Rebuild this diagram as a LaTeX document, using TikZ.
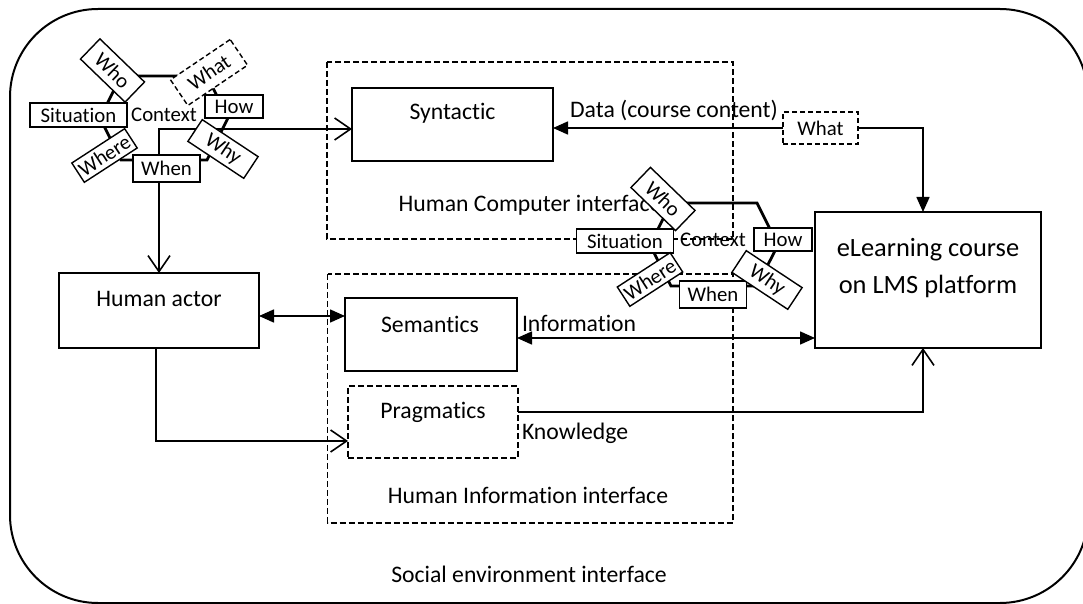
\documentclass[tikz,border=0pt]{standalone}
\usepackage{fontspec}
\setmainfont{Carlito}[Ligatures=NoCommon]
\usetikzlibrary{arrows.meta}
\begin{document}
\begin{tikzpicture}[x=0.5pt,y=-0.5pt,
  every node/.style={inner sep=0pt, outer sep=0pt},
  mainfont/.style={font=\fontsize{11.85pt}{14pt}\selectfont},
  smallfont/.style={font=\fontsize{10.4pt}{12pt}\selectfont},
  blk/.style={draw, line width=1pt, fill=white},
  area/.style={draw, line width=0.8pt, dash pattern=on 3pt off 1.5pt},
  tag/.style={draw, line width=0.7pt, fill=white, smallfont},
  tagdash/.style={tag, dash pattern=on 2.5pt off 1.5pt},
  hexa/.style={line width=1.4pt, line join=miter},
  link/.style={line width=0.8pt},
  solidtip/.style={link, -{Triangle[length=7.5pt,width=6.5pt]}},
  solidtwo/.style={link, {Triangle[length=7.5pt,width=6.5pt]}-{Triangle[length=7.5pt,width=6.5pt]}},
  opentip/.style={link, -{Straight Barb[length=8pt,width=11pt]}},
  opentwo/.style={link, {Straight Barb[length=8pt,width=11pt]}-{Straight Barb[length=8pt,width=11pt]}}
]
\useasboundingbox (0,0) rectangle (1083,604);

% social environment (outer frame)
\draw[line width=1pt, rounded corners=44pt] (10,9) rectangle (1088,603);
\node[mainfont] (sel) at (529,574) {Social environment interface};

% interface areas
\draw[area] (327,62) rectangle (733,239);
\draw[area] (327.5,274) rectangle (733,523);
\node[mainfont] (hcil) at (530,205) {Human Computer interface};
\node[mainfont] (hiil) at (528,495) {Human Information interface};

% main blocks
\node[blk, minimum width=100.5pt, minimum height=36.5pt] (syn) at (452.5,124.5) {};
\node[mainfont] (synt) at (452.5,113) {Syntactic};
\node[blk, minimum width=86pt, minimum height=36.5pt] (sem) at (431,334.5) {};
\node[mainfont] (semt) at (430,324) {Semantics};
\node[blk, minimum width=100pt, minimum height=37.5pt] (ha) at (159,310.5) {};
\node[mainfont] (hat) at (159,299) {Human actor};
\node[blk, dash pattern=on 3pt off 1.5pt, minimum width=85pt, minimum height=36pt] (prag) at (433,422) {};
\node[mainfont] (pragt) at (433,412) {Pragmatics};
\node[blk, minimum width=113pt, minimum height=68pt] (elc) at (928,280) {};
\node[font=\fontsize{13.2pt}{18.5pt}\selectfont, align=center] (elt) at (928,268) {eLearning course\\on LMS platform};
\node[tagdash, minimum width=37.5pt, minimum height=16pt] (what2) at (820.5,128) {What};

% connector levels
\coordinate (yData) at (0,129);
\coordinate (yInfo) at (0,338);
\coordinate (yHA) at (0,316);
\coordinate (yKnow) at (0,412);
\coordinate (yPrag) at (0,441);
\coordinate (eltop) at ([xshift=-2.5pt]elc.north);
\coordinate (elbot) at ([xshift=-2.5pt]elc.south);

% connectors
\draw[solidtip] (what2.west) -- (what2.west -| syn.east);
\draw[solidtip] (what2.east) -| (eltop);
\draw[solidtwo] (sem.east |- yInfo) -- (elc.west |- yInfo);
\draw[solidtwo] (ha.east |- yHA) -- (sem.west |- yHA);
\draw[opentwo] (ha.north) |- (syn.west |- yData);
\draw[opentip] ([xshift=-1.5pt]ha.south) |- (prag.west |- yPrag);
\draw[opentip] (prag.east |- yKnow) -| (elbot);

% connector labels
\node[mainfont] (datal) at (674,110) {Data (course content)};
\node[mainfont, anchor=west] (infol) at (522,323) {Information};
\node[mainfont, anchor=west] (knowl) at (522,433) {Knowledge};

% context of the human actor
\draw[hexa] (121,76) -- (207,76) -- (228,118) -- (207,160) -- (121,160) -- (100,118) -- cycle;
\node[smallfont] (c1ctx) at (164,115) {Context};
\node[tag, minimum width=31pt, minimum height=14pt, rotate=-44] (c1who) at (112.5,70.5) {Who};
\node[tagdash, minimum width=36pt, minimum height=15.5pt, rotate=34] (c1what) at (209,72.5) {What};
\node[tag, minimum width=29pt, minimum height=11.5pt] (c1how) at (234,106.5) {How};
\node[tag, minimum width=48.5pt, minimum height=12pt] (c1sit) at (78.5,115) {Situation};
\node[tag, minimum width=31.5pt, minimum height=11.5pt, rotate=33] (c1where) at (104.5,155.5) {Where};
\node[tag, minimum width=33.5pt, minimum height=13.5pt] (c1when) at (166.5,168.5) {When};
\node[tag, minimum width=33.5pt, minimum height=13pt, rotate=-33.5] (c1why) at (223,149) {Why};

% context of the course
\draw[hexa] (671,203) -- (757,203) -- (778,245) -- (757,286) -- (671,286) -- (650,245) -- cycle;
\node[smallfont] (c2ctx) at (713,240) {Context};
\node[tag, minimum width=31pt, minimum height=14pt, rotate=-44] (c2who) at (663,199) {Who};
\node[tag, minimum width=29pt, minimum height=11.5pt] (c2how) at (783,239.5) {How};
\node[tag, minimum width=48.5pt, minimum height=12pt] (c2sit) at (625,241) {Situation};
\node[tag, minimum width=31.5pt, minimum height=11.5pt, rotate=33] (c2where) at (650,279.5) {Where};
\node[tag, minimum width=33.5pt, minimum height=13.5pt] (c2when) at (713,294.5) {When};
\node[tag, minimum width=33.5pt, minimum height=13pt, rotate=-33.5] (c2why) at (767,280) {Why};
\end{tikzpicture}
\end{document}
